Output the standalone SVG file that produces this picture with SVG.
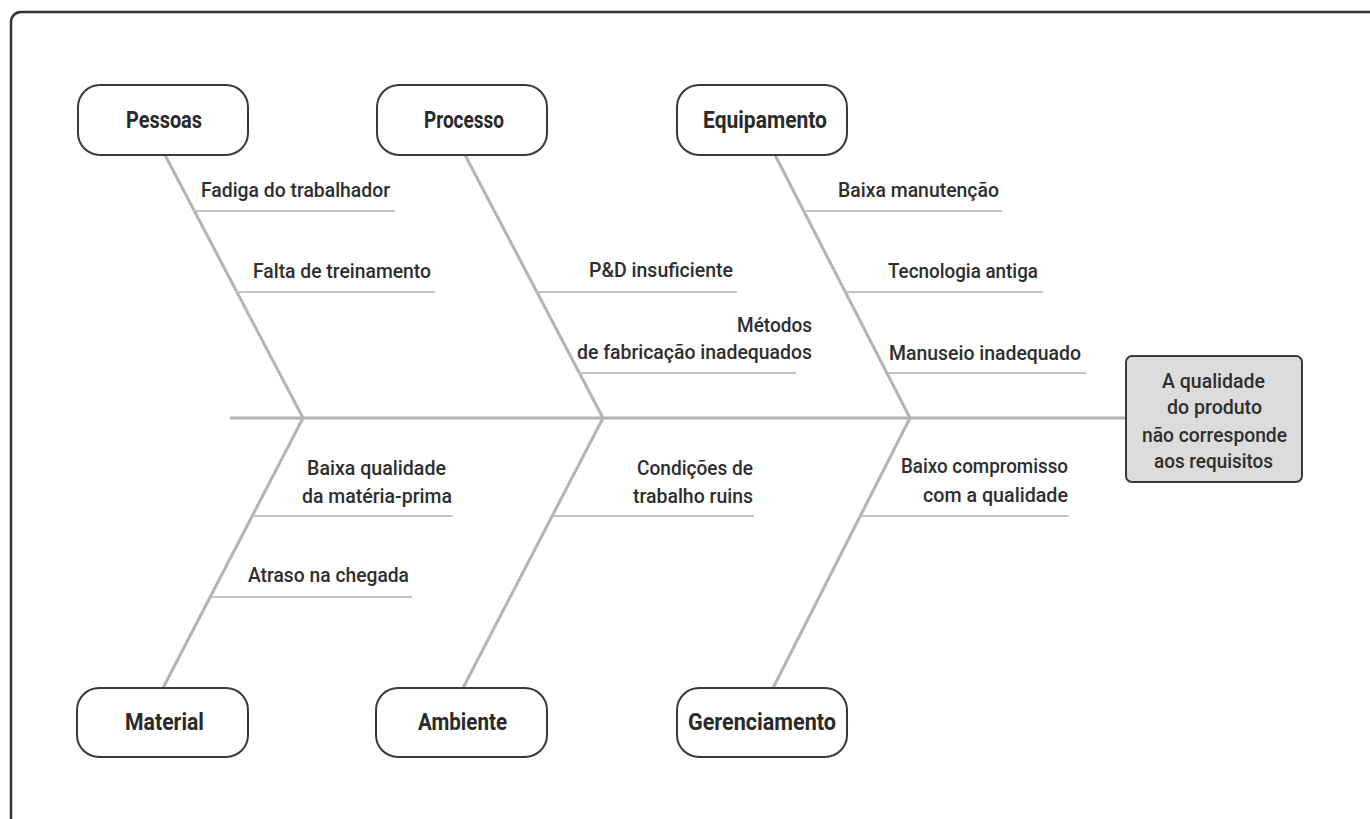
<svg xmlns="http://www.w3.org/2000/svg" width="1370" height="819" viewBox="0 0 1370 819">
<style>
.frame{fill:#fff;stroke:#333;stroke-width:2.5}
.cat{fill:#fff;stroke:#3a3a3a;stroke-width:2}
.eff{fill:#dcdcdc;stroke:#3a3a3a;stroke-width:2}
.bone{stroke:#b4b4b6;stroke-width:3;fill:none}
.sub{stroke:#c4c4c6;stroke-width:2;fill:none}
.cl{font-family:Roboto,"Liberation Sans",Arial,sans-serif;font-weight:bold;font-size:23px;fill:#2a2a2a}
.lb{font-family:Roboto,"Liberation Sans",Arial,sans-serif;font-weight:500;font-size:21px;fill:#2e2e2e}
</style>
<rect class="frame" x="11" y="12" width="1390" height="830" rx="10"/>
<g id="connectors">
<line class="bone" x1="230" y1="418" x2="1126" y2="418"/>
<line class="bone" x1="165" y1="155" x2="303" y2="418"/>
<line class="bone" x1="303" y1="418" x2="163" y2="688"/>
<line class="bone" x1="465" y1="155" x2="603" y2="418"/>
<line class="bone" x1="603" y1="418" x2="463" y2="688"/>
<line class="bone" x1="775" y1="155" x2="910" y2="418"/>
<line class="bone" x1="910" y1="418" x2="773" y2="688"/>
<line class="sub" x1="194" y1="211" x2="395" y2="211"/>
<line class="sub" x1="236" y1="292" x2="435" y2="292"/>
<line class="sub" x1="536" y1="292" x2="737" y2="292"/>
<line class="sub" x1="578" y1="373" x2="796" y2="373"/>
<line class="sub" x1="804" y1="211" x2="1002" y2="211"/>
<line class="sub" x1="846" y1="292" x2="1043" y2="292"/>
<line class="sub" x1="888" y1="373" x2="1086" y2="373"/>
<line class="sub" x1="253" y1="516" x2="453" y2="516"/>
<line class="sub" x1="212" y1="597" x2="412" y2="597"/>
<line class="sub" x1="553" y1="516" x2="754" y2="516"/>
<line class="sub" x1="860" y1="516" x2="1069" y2="516"/>
</g>
<g id="pessoas"><rect class="cat" x="78" y="85" width="170" height="70" rx="22"/><text class="cl" x="126" y="128" textLength="76" lengthAdjust="spacingAndGlyphs">Pessoas</text></g>
<g id="processo"><rect class="cat" x="377" y="85" width="170" height="70" rx="22"/><text class="cl" x="424" y="128" textLength="80" lengthAdjust="spacingAndGlyphs">Processo</text></g>
<g id="equipamento"><rect class="cat" x="677" y="85" width="170" height="70" rx="22"/><text class="cl" x="703" y="128" textLength="124" lengthAdjust="spacingAndGlyphs">Equipamento</text></g>
<g id="material"><rect class="cat" x="77" y="688" width="171" height="69" rx="22"/><text class="cl" x="125" y="730" textLength="79" lengthAdjust="spacingAndGlyphs">Material</text></g>
<g id="ambiente"><rect class="cat" x="376" y="688" width="171" height="69" rx="22"/><text class="cl" x="418" y="730" textLength="89" lengthAdjust="spacingAndGlyphs">Ambiente</text></g>
<g id="gerenciamento"><rect class="cat" x="677" y="688" width="170" height="69" rx="22"/><text class="cl" x="688" y="730" textLength="148" lengthAdjust="spacingAndGlyphs">Gerenciamento</text></g>
<g id="efeito"><rect class="eff" x="1126" y="356" width="176" height="126" rx="6"/>
<text class="lb" x="1162" y="388" textLength="103" lengthAdjust="spacingAndGlyphs">A qualidade</text>
<text class="lb" x="1167" y="414" textLength="95" lengthAdjust="spacingAndGlyphs">do produto</text>
<text class="lb" x="1142" y="442" textLength="145" lengthAdjust="spacingAndGlyphs">não corresponde</text>
<text class="lb" x="1154" y="468" textLength="119" lengthAdjust="spacingAndGlyphs">aos requisitos</text></g>
<g id="causas">
<text class="lb" x="201" y="197" textLength="189" lengthAdjust="spacingAndGlyphs">Fadiga do trabalhador</text>
<text class="lb" x="253" y="278" textLength="178" lengthAdjust="spacingAndGlyphs">Falta de treinamento</text>
<text class="lb" x="589" y="277" textLength="144" lengthAdjust="spacingAndGlyphs">P&amp;D insuficiente</text>
<text class="lb" x="737" y="332" textLength="75" lengthAdjust="spacingAndGlyphs">Métodos</text>
<text class="lb" x="577" y="359" textLength="235" lengthAdjust="spacingAndGlyphs">de fabricação inadequados</text>
<text class="lb" x="838" y="197" textLength="161" lengthAdjust="spacingAndGlyphs">Baixa manutenção</text>
<text class="lb" x="888" y="278" textLength="150" lengthAdjust="spacingAndGlyphs">Tecnologia antiga</text>
<text class="lb" x="889" y="360" textLength="192" lengthAdjust="spacingAndGlyphs">Manuseio inadequado</text>
<text class="lb" x="307" y="475" textLength="139" lengthAdjust="spacingAndGlyphs">Baixa qualidade</text>
<text class="lb" x="302" y="503" textLength="150" lengthAdjust="spacingAndGlyphs">da matéria-prima</text>
<text class="lb" x="248" y="582" textLength="161" lengthAdjust="spacingAndGlyphs">Atraso na chegada</text>
<text class="lb" x="637" y="475" textLength="116" lengthAdjust="spacingAndGlyphs">Condições de</text>
<text class="lb" x="633" y="503" textLength="120" lengthAdjust="spacingAndGlyphs">trabalho ruins</text>
<text class="lb" x="901" y="473" textLength="167" lengthAdjust="spacingAndGlyphs">Baixo compromisso</text>
<text class="lb" x="923" y="502" textLength="145" lengthAdjust="spacingAndGlyphs">com a qualidade</text>
</g>
</svg>
